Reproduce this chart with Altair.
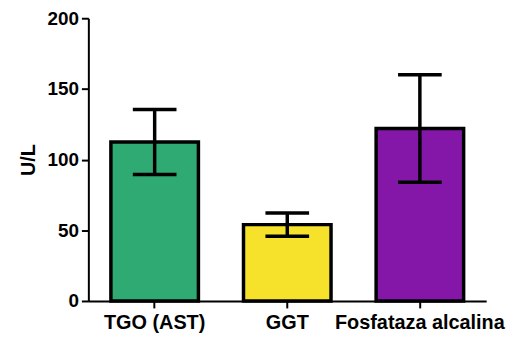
import altair as alt
import pandas as pd

categories = ["TGO (AST)", "GGT", "Fosfataza alcalina"]
means = [112.5, 54.0, 122.0]
errors = [23.0, 8.2, 38.0]
colors = ["#2eaa72", "#f7e22b", "#8416a8"]

df = pd.DataFrame({
    "cat": categories,
    "mean": means,
    "low": [m - e for m, e in zip(means, errors)],
    "high": [m + e for m, e in zip(means, errors)],
})

x = alt.X("cat:N", sort=categories, title=None,
          scale=alt.Scale(paddingInner=0.34, paddingOuter=0.17),
          axis=alt.Axis(labelAngle=0, labelFontSize=20, labelPadding=5))
yscale = alt.Scale(domain=[0, 200], nice=False)

bars = alt.Chart(df).mark_bar(stroke="black", strokeWidth=3.5).encode(
    x=x,
    y=alt.Y("mean:Q", scale=yscale, title="U/L",
            axis=alt.Axis(values=[0, 50, 100, 150, 200], titleFontSize=20,
                          titlePadding=9, labelFontSize=19, labelPadding=3)),
    color=alt.Color("cat:N", sort=categories,
                    scale=alt.Scale(domain=categories, range=colors), legend=None),
)

rule = alt.Chart(df).mark_rule(color="black", strokeWidth=3.5).encode(
    x=alt.X("cat:N", sort=categories),
    y=alt.Y("low:Q", scale=yscale),
    y2="high:Q",
)

tick_hi = alt.Chart(df).mark_tick(color="black", size=44, thickness=3.5, opacity=1).encode(
    x=alt.X("cat:N", sort=categories),
    y=alt.Y("high:Q", scale=yscale),
)
tick_lo = alt.Chart(df).mark_tick(color="black", size=44, thickness=3.5, opacity=1).encode(
    x=alt.X("cat:N", sort=categories),
    y=alt.Y("low:Q", scale=yscale),
)

chart = alt.layer(bars, rule, tick_hi, tick_lo).properties(
    width=401, height=285,
    autosize=alt.AutoSizeParams(type="none"),
    padding={"left": 81, "top": 9, "right": 22, "bottom": 34},
).configure_view(stroke=None).configure_axis(
    grid=False,
    domainColor="black", domainWidth=2,
    tickColor="black", tickWidth=2, tickSize=7,
    labelFont="Liberation Sans", labelFontWeight="bold", labelColor="black",
    titleFont="Liberation Sans", titleFontWeight="bold", titleColor="black",
)

chart.save("out.html", embed_options={"renderer": "svg", "actions": False})
